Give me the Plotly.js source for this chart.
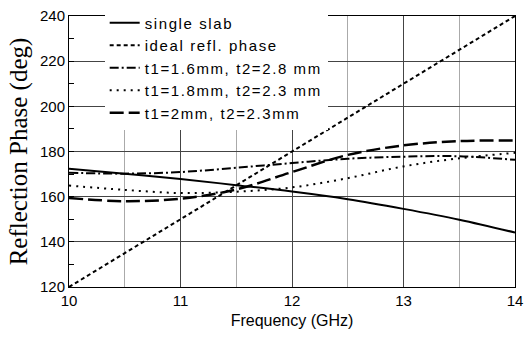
<!DOCTYPE html>
<html><head><meta charset="utf-8">
<script src="https://cdn.plot.ly/plotly-3.0.1.min.js"></script>
<style>html,body{margin:0;padding:0;background:#fff}#c{width:526px;height:338px}
.legendtext{letter-spacing:1.6px}</style>
</head><body><div id="c"></div>
<script>
const freq = [10, 10.5, 11, 11.5, 12, 12.5, 13, 13.5, 14];
const ideal = [120, 135, 150, 165, 180, 195, 210, 225, 240];
const singleSlab = [172.4, 170.2, 167.8, 165.1, 162.3, 158.9, 154.6, 149.8, 144.1];
const t16_28 = [170.6, 170.2, 170.9, 172.8, 174.9, 176.8, 177.7, 177.9, 176.3];
const t18_23 = [164.9, 163.0, 161.6, 162.2, 164.1, 168.2, 173.4, 177.0, 179.4];
const t20_23 = [159.4, 158.0, 159.1, 163.2, 170.9, 178.5, 182.7, 184.6, 184.9];
const names = ['single slab', 'ideal refl. phase', 't1=1.6mm, t2=2.8 mm', 't1=1.8mm, t2=2.3 mm', 't1=2mm, t2=2.3mm'];

const traces = [
  {x: freq, y: singleSlab, name: names[0], line: {color: '#000', width: 2, shape: 'spline'}},
  {x: freq, y: ideal, name: names[1], line: {color: '#000', width: 2, dash: '4px,3px'}},
  {x: freq, y: t16_28, name: names[2], line: {color: '#000', width: 2, dash: '9px,3px,2px,3px', shape: 'spline'}},
  {x: freq, y: t18_23, name: names[3], line: {color: '#000', width: 2, dash: '2px,5px', shape: 'spline'}},
  {x: freq, y: t20_23, name: names[4], line: {color: '#000', width: 2.5, dash: '14px,5px', shape: 'spline'}}
].map(t => Object.assign({type: 'scatter', mode: 'lines'}, t));

const layout = {
  width: 526, height: 338,
  margin: {l: 69, r: 11, t: 7, b: 51},
  paper_bgcolor: '#fff', plot_bgcolor: '#fff',
  font: {family: 'Liberation Sans, Arial, sans-serif', color: '#000'},
  showlegend: true,
  legend: {x: 0.08, y: 1.035, xanchor: 'left', yanchor: 'top', bgcolor: '#fff',
    font: {size: 15, family: 'Liberation Sans, Arial, sans-serif'}, tracegroupgap: 0},
  xaxis: {range: [10, 14], dtick: 1, showgrid: true, gridcolor: '#444', gridwidth: 1,
    minor: {dtick: 0.5, showgrid: true, gridcolor: '#aaa', ticks: ''},
    showline: true, linecolor: '#000', linewidth: 1, mirror: true, ticks: '', zeroline: false,
    tickfont: {size: 15}, title: {text: 'Frequency (GHz)', font: {size: 16}, standoff: 6}},
  yaxis: {range: [120, 240], dtick: 20, showgrid: true, gridcolor: '#444', gridwidth: 1,
    minor: {dtick: 10, ticks: 'inside', ticklen: 5, tickcolor: '#000', showgrid: false},
    ticks: 'inside', ticklen: 5, tickcolor: '#000',
    showline: true, linecolor: '#000', linewidth: 1, mirror: true, zeroline: false,
    tickfont: {size: 15},
    title: {text: 'Reflection Phase (deg)', font: {size: 25, family: 'Liberation Serif, Times New Roman, serif'}, standoff: 5}}
};
Plotly.newPlot('c', traces, layout, {displayModeBar: false, staticPlot: true});
</script></body></html>
